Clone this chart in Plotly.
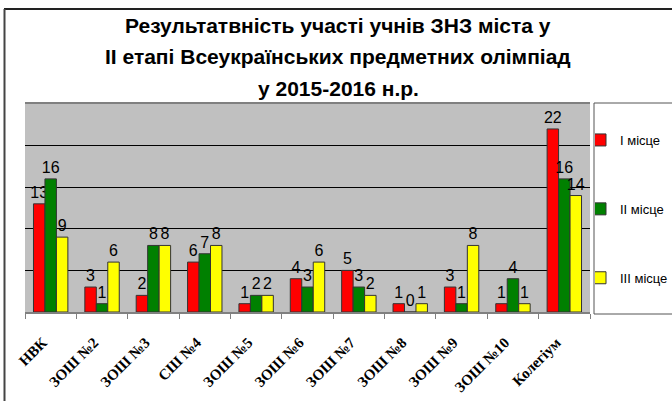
import plotly.graph_objects as go

categories = ["НВК", "ЗОШ №2", "ЗОШ №3", "СШ №4", "ЗОШ №5", "ЗОШ №6",
              "ЗОШ №7", "ЗОШ №8", "ЗОШ №9", "ЗОШ №10", "Колегіум"]
first_place = [13, 3, 2, 6, 1, 4, 5, 1, 3, 1, 22]
second_place = [16, 1, 8, 7, 2, 3, 3, 0, 1, 4, 16]
third_place = [9, 6, 8, 8, 2, 6, 2, 1, 8, 1, 14]
series_names = ["І місце", "ІІ місце", "ІІІ місце"]
series_colors = ["#FF0000", "#008000", "#FFFF00"]
title_lines = ["Результатвність участі учнів ЗНЗ міста у",
               "ІІ етапі Всеукраїнських предметних олімпіад",
               "у 2015-2016 н.р."]

W, H = 672, 401
L, R, T, B = 25, 82, 104, 89
pw, ph = W - L - R, H - T - B


def px_x(x):
    return (x - L) / pw


def px_y(y):
    return (H - B - y) / ph


fig = go.Figure()
for name, vals, col in zip(series_names, [first_place, second_place, third_place], series_colors):
    fig.add_trace(go.Bar(
        x=categories, y=vals, name=name, legendgroup=name,
        marker=dict(color=col, line=dict(color="#333333", width=1)),
        text=[str(v) for v in vals], textposition="outside",
        constraintext="none", cliponaxis=False,
        textfont=dict(family="Liberation Sans, Arial", size=16, color="black"),
    ))

annotations = []
for i, line in enumerate(title_lines):
    annotations.append(dict(
        text="<b>%s</b>" % line, xref="paper", yref="paper",
        x=px_x(338), y=px_y([25, 57, 88][i]), xanchor="center", yanchor="middle",
        showarrow=False, font=dict(family="Liberation Sans, Arial", size=21, color="black")))

shapes = [
    # legend box
    dict(type="rect", xref="paper", yref="paper",
         x0=px_x(594), x1=px_x(680), y0=px_y(314), y1=px_y(103),
         line=dict(color="#555555", width=1), fillcolor="white", layer="below"),
    # outer chart border (top & left)
    dict(type="line", xref="paper", yref="paper",
         x0=px_x(4), x1=px_x(680), y0=px_y(9), y1=px_y(9),
         line=dict(color="#222222", width=2)),
    dict(type="line", xref="paper", yref="paper",
         x0=px_x(4.5), x1=px_x(4.5), y0=px_y(9), y1=px_y(410),
         line=dict(color="#444444", width=2)),
]

fig.update_layout(
    width=W, height=H,
    margin=dict(l=L, r=R, t=T, b=B, autoexpand=False),
    paper_bgcolor="white", plot_bgcolor="#C0C0C0",
    barmode="group", bargap=0.33, bargroupgap=0,
    showlegend=True,
    legend=dict(xref="container", yref="container",
                x=595 / W, y=1 - 125 / H, xanchor="left", yanchor="top",
                traceorder="grouped", tracegroupgap=49, itemwidth=30,
                indentation=-15,
                bgcolor="rgba(0,0,0,0)",
                font=dict(family="Liberation Sans, Arial", size=13, color="black")),
    annotations=annotations,
    shapes=shapes,
    xaxis=dict(showline=True, linecolor="#808080", linewidth=2, mirror=True,
               ticks="outside", ticklen=5, tickcolor="#808080", tickson="boundaries",
               tickangle=-45, automargin=False,
               ticklabelstandoff=14, ticklabelshift=-8,
               tickfont=dict(family="Liberation Serif, Times New Roman", size=15,
                             color="black", weight="bold"),
               showgrid=False),
    yaxis=dict(range=[0, 25], dtick=5, showticklabels=False, ticks="",
               showgrid=True, gridcolor="black", gridwidth=1,
               zeroline=False, showline=False, automargin=False),
)

fig.write_html("out.html", config={"displayModeBar": False},
               post_script="document.body.style.margin='0';document.body.style.overflow='hidden';")
